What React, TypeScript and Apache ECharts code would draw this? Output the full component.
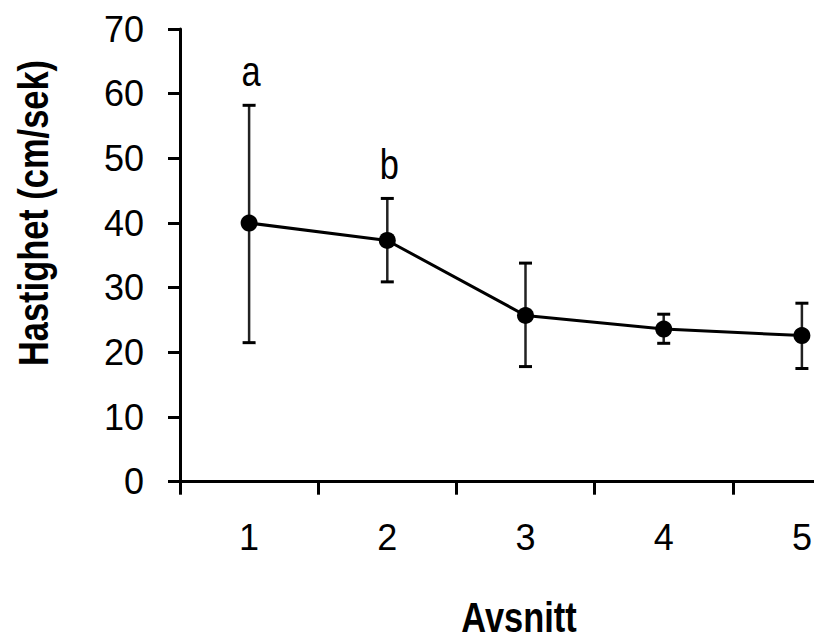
import React, { useEffect, useRef } from "react";
import * as echarts from "echarts";

const categories = ["1", "2", "3", "4", "5"];
const means = [40.0, 37.3, 25.7, 23.6, 22.6];
const errLow = [21.5, 30.9, 17.8, 21.4, 17.5];
const errHigh = [58.2, 43.8, 33.8, 25.9, 27.6];
const groupLabels = ["a", "b", "", "", ""];
const yTicks = { min: 0, max: 70, interval: 10 };
const yTitle = "Hastighet (cm/sek)";
const xTitle = "Avsnitt";

const FONT = "'Liberation Sans Narrow', 'Arial Narrow', 'Liberation Sans', Arial, sans-serif";
const NARROW = 0.82;

export default function App() {
  const ref = useRef<HTMLDivElement>(null);
  useEffect(() => {
    if (!ref.current) return;
    const chart = echarts.init(ref.current, null, { renderer: "svg" });
    const errData = categories.map((c, i) => [i, errLow[i], errHigh[i]]);
    chart.setOption({
      animation: false,
      backgroundColor: "#fff",
      grid: { left: 180, right: 9, top: 29, bottom: 152.3, containLabel: false },
      xAxis: {
        type: "category",
        data: categories,
        boundaryGap: true,
        axisLine: { lineStyle: { color: "#000", width: 3 } },
        axisTick: { show: true, length: 13, interval: 0, alignWithLabel: false, lineStyle: { color: "#000", width: 3 } },
        axisLabel: { color: "#000", fontFamily: FONT, fontSize: 36, margin: 38 },
        splitLine: { show: false },
      },
      yAxis: {
        type: "value",
        min: yTicks.min,
        max: yTicks.max,
        interval: yTicks.interval,
        axisLine: { show: true, lineStyle: { color: "#000", width: 3 } },
        axisTick: { show: true, length: 12, lineStyle: { color: "#000", width: 3 } },
        axisLabel: { color: "#000", fontFamily: FONT, fontSize: 36, margin: 36 },
        splitLine: { show: false },
      },
      graphic: [
        {
          type: "text",
          x: 33,
          y: 213,
          rotation: Math.PI / 2,
          scaleX: NARROW,
          style: {
            text: yTitle,
            fill: "#000",
            font: `bold 42px ${FONT}`,
            align: "center",
            verticalAlign: "middle",
          },
        },
        {
          type: "text",
          x: 519,
          y: 617,
          scaleX: NARROW,
          style: {
            text: xTitle,
            fill: "#000",
            font: `bold 42px ${FONT}`,
            align: "center",
            verticalAlign: "middle",
          },
        },
      ],
      series: [
        {
          type: "custom",
          data: errData,
          z: 1,
          renderItem: (params: any, api: any) => {
            const i = api.value(0);
            const lo = api.coord([i, api.value(1)]);
            const hi = api.coord([i, api.value(2)]);
            const x = lo[0];
            const hw = 6.5;
            const style = { stroke: "#222", lineWidth: 2.5 };
            const label = groupLabels[params.dataIndex];
            const children: any[] = [
              { type: "line", shape: { x1: x, y1: hi[1], x2: x, y2: lo[1] }, style },
              { type: "line", shape: { x1: x - hw, y1: hi[1], x2: x + hw, y2: hi[1] }, style: { stroke: "#000", lineWidth: 3 } },
              { type: "line", shape: { x1: x - hw, y1: lo[1], x2: x + hw, y2: lo[1] }, style: { stroke: "#000", lineWidth: 3 } },
            ];
            if (label) {
              children.push({
                type: "text",
                x: x + 2,
                y: hi[1] - 34,
                scaleX: NARROW,
                style: {
                  text: label,
                  fill: "#000",
                  font: `42px ${FONT}`,
                  align: "center",
                  verticalAlign: "middle",
                },
              });
            }
            return { type: "group", children };
          },
        },
        {
          type: "line",
          data: means,
          z: 3,
          symbol: "circle",
          symbolSize: 17,
          itemStyle: { color: "#000" },
          lineStyle: { color: "#000", width: 3 },
        },
      ],
    });
    return () => chart.dispose();
  }, []);
  return (
    <div style={{ position: "fixed", left: 0, top: 0, width: 814, height: 634, overflow: "hidden", background: "#fff" }}>
      <div ref={ref} style={{ width: 880, height: 634 }} />
    </div>
  );
}
